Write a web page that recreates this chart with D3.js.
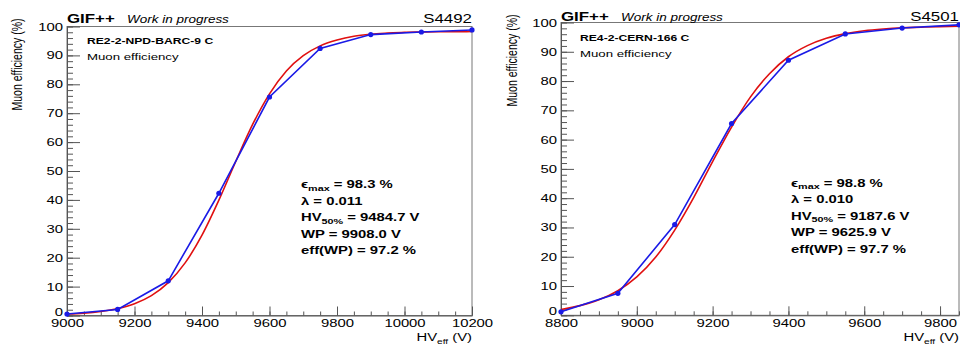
<!DOCTYPE html>
<html>
<head>
<meta charset="utf-8">
<script src="https://cdn.jsdelivr.net/npm/d3@7"></script>
<style>
  body { margin: 0; background: #fff; }
  svg { display: block; }
  text { font-family: "Liberation Sans", Arial, Helvetica, sans-serif; fill: #000; }
</style>
</head>
<body>
<svg id="chart" width="960" height="347"></svg>
<script>
// ---- left panel: RE2-2-NPD-BARC-9 C (S4492)
const leftHV = [9000, 9150, 9300, 9450, 9600, 9750, 9900, 10050, 10200];
const leftEff = [0.5, 2.1, 12.0, 42.3, 75.6, 92.4, 97.2, 98.1, 98.8];
const leftFitHV = [9000, 9050, 9100, 9150, 9200, 9250, 9300, 9350, 9400, 9450, 9500, 9550, 9600,
  9650, 9700, 9750, 9800, 9850, 9900, 9950, 10000, 10050, 10100, 10150, 10200];
const leftFitEff = [0.5, 0.8, 1.4, 2.4, 4.1, 6.9, 11.4, 18.2, 27.8, 39.9, 53.3, 66.1, 76.7,
  84.6, 89.9, 93.3, 95.3, 96.6, 97.3, 97.7, 98.0, 98.1, 98.2, 98.2, 98.3];
const leftXTicks = [9000, 9200, 9400, 9600, 9800, 10000, 10200];
const leftInfo = ["98.3 %", "0.011", "9484.7 V", "9908.0 V", "97.2 %"];

// ---- right panel: RE4-2-CERN-166 C (S4501)
const rightHV = [8800, 8950, 9100, 9250, 9400, 9550, 9700, 9850];
const rightEff = [1.2, 7.5, 31.0, 65.5, 87.1, 96.1, 98.1, 99.2];
const rightFitHV = [8800, 8850, 8900, 8950, 9000, 9050, 9100, 9150, 9200, 9250, 9300,
  9350, 9400, 9450, 9500, 9550, 9600, 9650, 9700, 9750, 9800, 9850];
const rightFitEff = [2.0, 3.3, 5.3, 8.4, 13.1, 19.9, 29.1, 40.2, 52.5, 64.3, 74.6,
  82.5, 88.3, 92.1, 94.6, 96.2, 97.2, 97.8, 98.2, 98.4, 98.6, 98.7];
const rightXTicks = [8800, 9000, 9200, 9400, 9600, 9800];
const rightInfo = ["98.8 %", "0.010", "9187.6 V", "9625.9 V", "97.7 %"];

const yTicks = [0, 10, 20, 30, 40, 50, 60, 70, 80, 90, 100];

const SX = 1.35; // the picture is stretched sideways, text too
const svg = d3.select("#chart");

function label(g, x, y, str, size, opts = {}) {
  return g.append("text")
    .attr("transform", `translate(${x},${y}) scale(${SX},1)`)
    .attr("font-size", size)
    .attr("font-weight", opts.weight || "normal")
    .attr("font-style", opts.style || "normal")
    .attr("text-anchor", opts.anchor || "start")
    .text(str);
}

function drawPanel(cfg) {
  const g = svg.append("g");
  const x = d3.scaleLinear().domain(cfg.xDomain).range([cfg.left, cfg.right]);
  const y = d3.scaleLinear().domain([0, 100]).range([cfg.bottom, cfg.top]);

  // frame
  g.append("rect")
    .attr("x", cfg.left).attr("y", cfg.top)
    .attr("width", cfg.right - cfg.left).attr("height", cfg.bottom - cfg.top)
    .attr("fill", "none").attr("stroke", "#777").attr("stroke-width", 1);

  // minor x ticks every 50 V
  g.append("g").attr("transform", `translate(0,${cfg.bottom})`)
    .call(d3.axisTop(x).tickValues(d3.range(cfg.xDomain[0], cfg.xDomain[1] + 1, 50))
      .tickSize(4).tickFormat(""))
    .call(a => a.select(".domain").remove())
    .call(a => a.selectAll("line").attr("stroke", "#555"));

  // major x ticks + labels
  const xa = g.append("g").attr("transform", `translate(0,${cfg.bottom})`)
    .call(d3.axisBottom(x).tickValues(cfg.xTicks).tickSizeInner(-9).tickSizeOuter(0)
      .tickPadding(4).tickFormat(d3.format("d")));
  xa.select(".domain").attr("stroke", "#555");
  xa.selectAll("line").attr("stroke", "#555");
  xa.selectAll("text").attr("font-size", 11).attr("font-family", null)
    .attr("transform", `scale(${SX},1)`);

  // minor y ticks every 2 %
  g.append("g").attr("transform", `translate(${cfg.left},0)`)
    .call(d3.axisRight(y).tickValues(d3.range(0, 101, 2)).tickSize(6).tickFormat(""))
    .call(a => a.select(".domain").remove())
    .call(a => a.selectAll("line").attr("stroke", "#555"));

  // major y ticks + labels
  const ya = g.append("g").attr("transform", `translate(${cfg.left},0)`)
    .call(d3.axisLeft(y).tickValues(yTicks).tickSizeInner(-13).tickSizeOuter(0).tickPadding(3));
  ya.select(".domain").attr("stroke", "#555");
  ya.selectAll("line").attr("stroke", "#555");
  ya.selectAll("text").attr("font-size", 11).attr("font-family", null)
    .attr("transform", d => d === 0 ? `translate(0,-4) scale(${SX},1)` : `scale(${SX},1)`);

  // fit curve
  g.append("path")
    .datum(cfg.fitHV.map((v, i) => [v, cfg.fitEff[i]]))
    .attr("fill", "none").attr("stroke", "#e01010").attr("stroke-width", 1.6)
    .attr("d", d3.line().x(d => x(d[0])).y(d => y(d[1])).curve(d3.curveMonotoneX));

  // measured points
  const pts = cfg.hv.map((v, i) => [v, cfg.eff[i]]);
  g.append("path").datum(pts)
    .attr("fill", "none").attr("stroke", "#1a1ae6").attr("stroke-width", 1.6)
    .attr("d", d3.line().x(d => x(d[0])).y(d => y(d[1])));
  g.selectAll("circle.pt").data(pts).enter().append("circle")
    .attr("class", "pt")
    .attr("cx", d => x(d[0])).attr("cy", d => y(d[1])).attr("r", 2.6)
    .attr("fill", "#1a1ae6");

  // titles
  label(g, cfg.left, cfg.titleY, "GIF++", 12.5, { weight: "bold" });
  label(g, cfg.left + 60, cfg.titleY, "Work in progress", 10, { style: "italic" });
  label(g, cfg.right, cfg.titleY, cfg.run, 12.5, { anchor: "end" });
  label(g, cfg.left + cfg.nameDX, cfg.nameY, cfg.chamber, 9, { weight: "bold" });
  label(g, cfg.left + cfg.nameDX, cfg.nameY + 16, "Muon efficiency", 9.8);

  // y axis title
  g.append("text")
    .attr("transform", `translate(${cfg.yTitleX},${cfg.top - 8}) rotate(-90) scale(1,${SX})`)
    .attr("font-size", 10.5).attr("text-anchor", "end")
    .text("Muon efficiency (%)");

  // x axis title
  const xt = label(g, cfg.right, 341, "", 11, { anchor: "end" });
  xt.append("tspan").text("HV");
  xt.append("tspan").attr("font-size", 7.5).attr("dy", 2.5).text("eff");
  xt.append("tspan").attr("dy", -2.5).text(" (V)");

  // fit results
  const info = cfg.info;
  const lx = cfg.infoX, ly = cfg.infoY, step = 16.5;
  const t0 = label(g, lx, ly, "", 11, { weight: "bold" });
  t0.append("tspan").text("ϵ");
  t0.append("tspan").attr("font-size", 8).attr("dy", 2.5).text("max");
  t0.append("tspan").attr("dy", -2.5).text(" = " + info[0]);
  label(g, lx, ly + step, "λ = " + info[1], 11, { weight: "bold" });
  const t2 = label(g, lx, ly + 2 * step, "", 11, { weight: "bold" });
  t2.append("tspan").text("HV");
  t2.append("tspan").attr("font-size", 8).attr("dy", 2.5).text("50%");
  t2.append("tspan").attr("dy", -2.5).text(" = " + info[2]);
  label(g, lx, ly + 3 * step, "WP = " + info[3], 11, { weight: "bold" });
  label(g, lx, ly + 4 * step, "eff(WP) = " + info[4], 11, { weight: "bold" });
}

drawPanel({
  xDomain: [9000, 10200], xTicks: leftXTicks,
  left: 67, right: 472, top: 26.5, bottom: 315.5,
  hv: leftHV, eff: leftEff, fitHV: leftFitHV, fitEff: leftFitEff,
  run: "S4492", chamber: "RE2-2-NPD-BARC-9 C", info: leftInfo,
  titleY: 22.5, nameY: 44, nameDX: 20, yTitleX: 22,
  infoX: 301, infoY: 188
});

drawPanel({
  xDomain: [8800, 9850], xTicks: rightXTicks,
  left: 561, right: 959, top: 22.5, bottom: 315.3,
  hv: rightHV, eff: rightEff, fitHV: rightFitHV, fitEff: rightFitEff,
  run: "S4501", chamber: "RE4-2-CERN-166 C", info: rightInfo,
  titleY: 20.5, nameY: 40.7, nameDX: 19, yTitleX: 517,
  infoX: 791, infoY: 186.7
});
</script>
</body>
</html>
